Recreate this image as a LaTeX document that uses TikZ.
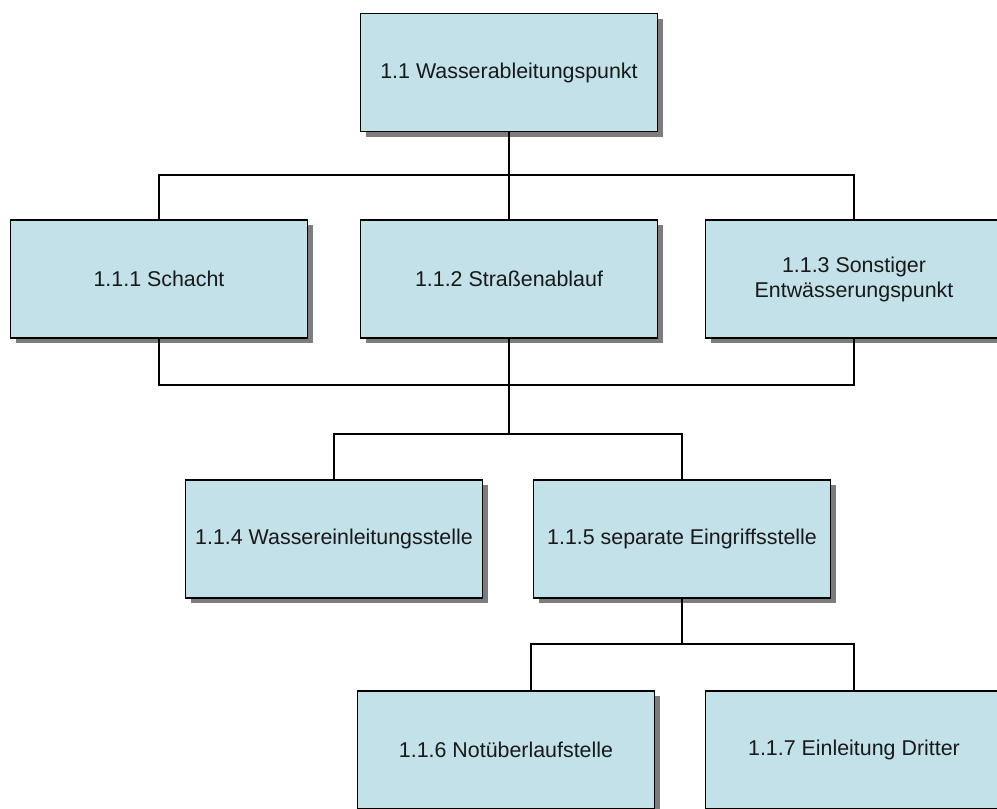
\documentclass[tikz,border=0pt]{standalone}
\usepackage{fontspec}
\setmainfont{Liberation Sans}
\usetikzlibrary{shadows}
\definecolor{boxfill}{RGB}{194,225,232}
\definecolor{shadowgray}{RGB}{125,125,125}
\definecolor{textcol}{RGB}{25,25,25}
\begin{document}
\begin{tikzpicture}[x=1pt,y=-1pt,
  orgbox/.style={draw=black, line width=1.8pt, fill=boxfill, minimum width=297pt, minimum height=118pt,
    inner sep=0pt, align=center, text=textcol, font=\fontsize{21.4}{25}\selectfont,
    drop shadow={shadow xshift=5pt, shadow yshift=-5pt, fill=shadowgray, opacity=1}},
  conn/.style={draw=black, line width=2pt}]
\useasboundingbox (0,0) rectangle (997,809);
\clip (0,0) rectangle (997,809);
\fill[white] (0,0) rectangle (997,809);
\coordinate (h1) at (0,175);
\coordinate (h2) at (0,385);
\coordinate (h3) at (0,434);
\coordinate (h4) at (0,644);
\node[orgbox] (A) at (509,72.5) {1.1 Wasserableitungspunkt};
\node[orgbox] (B1) at (159,279) {1.1.1 Schacht};
\node[orgbox] (B2) at (509,279) {1.1.2 Straßenablauf};
\node[orgbox] (B3) at (854,279) {1.1.3 Sonstiger\\Entwässerungspunkt};
\node[orgbox] (C1) at (334,539) {1.1.4 Wassereinleitungsstelle};
\node[orgbox] (C2) at (682,539) {1.1.5 separate Eingriffsstelle};
\node[orgbox] (D1) at (506,750) {1.1.6 Notüberlaufstelle};
\node[orgbox] (D2) at (854,750) {1.1.7 Einleitung Dritter};
\coordinate (d1c) at ([xshift=25pt]D1.north);
\draw[conn] (A.south) -- (A.south |- h1);
\draw[conn] (B1.north) -- (B1.north |- h1) -- (B3.north |- h1) -- (B3.north);
\draw[conn] (B2.north) -- (B2.north |- h1);
\draw[conn] (B1.south) -- (B1.south |- h2) -- (B3.south |- h2) -- (B3.south);
\draw[conn] (B2.south) -- (B2.south |- h3);
\draw[conn] (C1.north) -- (C1.north |- h3) -- (C2.north |- h3) -- (C2.north);
\draw[conn] (C2.south) -- (C2.south |- h4);
\draw[conn] (d1c) -- (d1c |- h4) -- (D2.north |- h4) -- (D2.north);
\end{tikzpicture}
\end{document}
